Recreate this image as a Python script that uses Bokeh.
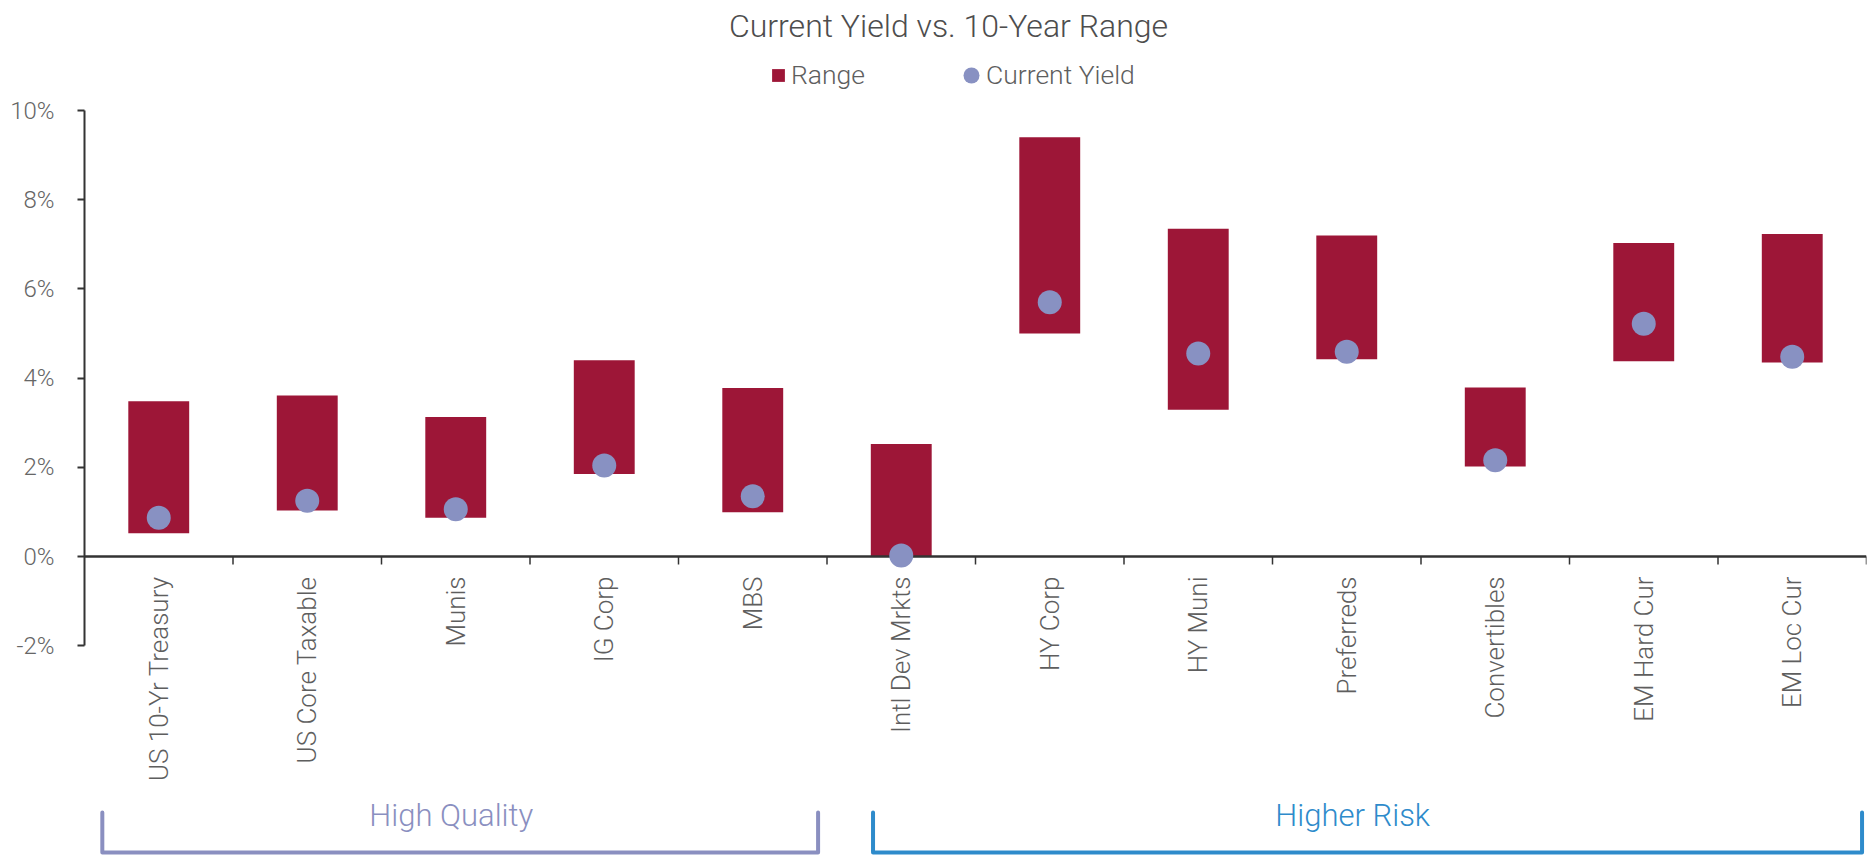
import numpy as np
from bokeh.plotting import figure
from bokeh.models import (ColumnDataSource, FactorRange, Range1d, FixedTicker,
                          PrintfTickFormatter, Legend, LegendItem, Label)
from bokeh.transform import dodge
from bokeh.core.properties import value
from bokeh.embed import file_html
from bokeh.resources import INLINE

# ---- data -------------------------------------------------------------
categories = ["US 10-Yr Treasury", "US Core Taxable", "Munis", "IG Corp", "MBS",
              "Intl Dev Mrkts", "HY Corp", "HY Muni", "Preferreds", "Convertibles",
              "EM Hard Cur", "EM Loc Cur"]
range_low = [0.52, 1.03, 0.87, 1.85, 0.99, 0.00, 5.00, 3.29, 4.42, 2.02, 4.38, 4.35]
range_high = [3.48, 3.61, 3.13, 4.40, 3.78, 2.52, 9.40, 7.35, 7.20, 3.79, 7.03, 7.23]
current_yield = [0.87, 1.25, 1.06, 2.04, 1.35, 0.02, 5.70, 4.55, 4.59, 2.16, 5.22, 4.48]
y_ticks = [-2, 0, 2, 4, 6, 8, 10]

group_names = ["High Quality", "Higher Risk"]
group_sizes = [5, 7]

# ---- style / layout ---------------------------------------------------
W, H = 1870, 856
LEFT, RIGHT_PAD = 84, 4
PLOT_TOP_PX = 110                  # screen row of the 10% tick
ZERO_PX = 556                      # screen row of the 0% line
PX_PER_UNIT = (ZERO_PX - PLOT_TOP_PX) / y_ticks[-1]
Y_END = y_ticks[-1] + PLOT_TOP_PX / PX_PER_UNIT
Y_START = Y_END - H / PX_PER_UNIT

BAR = "#9D1637"
DOT = "#8891C2"
AXIS = "#333333"
TEXT = "#5E5E5E"
GROUP_COLORS = ["#8A8FC0", "#2E8BCB"]
LIGHT = "'Roboto Light', Roboto"
DOT_PX = 24

p = figure(width=W, height=H,
           x_range=FactorRange(factors=categories),
           y_range=Range1d(Y_START, Y_END),
           x_axis_location=None, y_axis_location="left",
           toolbar_location=None, output_backend="svg",
           min_border_left=LEFT, min_border_right=RIGHT_PAD,
           min_border_top=0, min_border_bottom=0,
           outline_line_color=None, background_fill_color="white")
p.title = None
p.grid.visible = False

# vertical screen-pixel range for the group brackets under the labels
p.extra_y_ranges = {"px": Range1d(H, 0)}

# ---- y axis -----------------------------------------------------------
ax = p.yaxis[0]
ax.ticker = FixedTicker(ticks=y_ticks, minor_ticks=[])
ax.formatter = PrintfTickFormatter(format="%d%%")
ax.bounds = (y_ticks[0], y_ticks[-1])
ax.axis_line_color = AXIS
ax.axis_line_width = 2
ax.major_tick_line_color = AXIS
ax.major_tick_line_width = 2
ax.major_tick_out = 7
ax.major_tick_in = 0
ax.minor_tick_line_color = None
ax.major_label_text_font = LIGHT
ax.major_label_text_font_size = "24px"
ax.major_label_text_color = "#666666"
ax.major_label_standoff = 23

# ---- marks ------------------------------------------------------------
src = ColumnDataSource(dict(cat=categories, low=range_low, high=range_high,
                            cur=current_yield))

bars = p.vbar(x="cat", bottom="low", top="high", width=0.41, source=src,
              fill_color=BAR, line_color=None)

# zero line acting as the category axis
p.hspan(y=[0], line_color=AXIS, line_width=2.5)

# tick marks at category boundaries
tick_len = 8 / PX_PER_UNIT
p.segment(x0=dodge("cat", 0.5, range=p.x_range), y0=0,
          x1=dodge("cat", 0.5, range=p.x_range), y1=-tick_len,
          source=src, line_color=AXIS, line_width=1.5)

# current yield points, fixed pixel diameter
dots = p.ellipse(x="cat", y="cur", width=DOT_PX, height=DOT_PX,
                 width_units="screen", height_units="screen", source=src,
                 fill_color=DOT, line_color=None)

# category labels, rotated, hanging below the zero line
p.text(x="cat", y=0, text="cat", source=src, angle=np.pi / 2,
       text_align="right", text_baseline="middle", y_offset=20,
       text_font=value(LIGHT), text_font_size="26px", text_color=TEXT)

# ---- group brackets ---------------------------------------------------
# bracket ends / label centre as (category, offset) positions
bracket_pad = [(-0.38, 0.44), (-0.19, 0.47)]
label_shift = [-0.03, 0.04]
b_top, b_bottom, label_y = 812, 852, 815
start = 0
for name, size, (pl, pr), ls, col in zip(group_names, group_sizes, bracket_pad,
                                         label_shift, GROUP_COLORS):
    first, last = categories[start], categories[start + size - 1]
    mid = categories[start + (size - 1) // 2]
    xs = [(first, pl), (first, pl), (last, pr), (last, pr)]
    p.line(x=xs, y=[b_top, b_bottom, b_bottom, b_top], y_range_name="px",
           line_color=col, line_width=4, line_join="round", line_cap="round")
    p.text(x=[(mid, ls + (0.5 if size % 2 == 0 else 0.0))], y=[label_y],
           text=[name], y_range_name="px",
           text_align="center", text_baseline="middle",
           text_font=value(LIGHT), text_font_size="31px", text_color=col)
    start += size

# ---- legend -----------------------------------------------------------
legend_style = dict(orientation="horizontal", padding=0, margin=0, spacing=0,
                    label_standoff=5, border_line_color=None,
                    background_fill_alpha=0, label_text_font=LIGHT,
                    label_text_font_size="26.5px", label_text_color=TEXT)
leg_range = Legend(items=[LegendItem(label="Range", renderers=[bars])],
                   location=(770 - LEFT, H - 90),
                   glyph_width=16, glyph_height=16, **legend_style)
leg_dot = Legend(items=[LegendItem(label="Current Yield", renderers=[dots])],
                 location=(961 - LEFT, H - 90),
                 glyph_width=20, glyph_height=20, **legend_style)
p.add_layout(leg_range)
p.add_layout(leg_dot)

# ---- title ------------------------------------------------------------
p.add_layout(Label(x=948 - LEFT, y=H - 25, x_units="screen", y_units="screen",
                   text="Current Yield vs. 10-Year Range",
                   text_align="center", text_baseline="middle",
                   text_font=LIGHT, text_font_size="32px",
                   text_color="#4D4D4D"))

open("out.html", "w").write(file_html(p, INLINE))
